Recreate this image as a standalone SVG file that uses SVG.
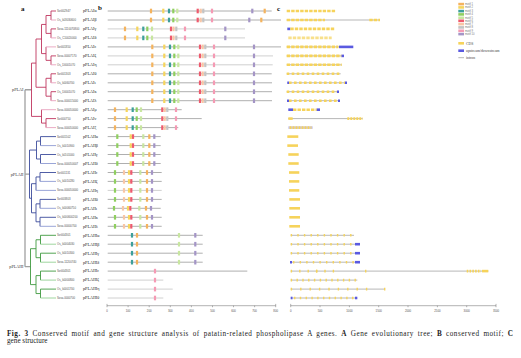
<svg xmlns="http://www.w3.org/2000/svg" width="521" height="358" viewBox="0 0 521 358">
<style>
.id{font-family:"Liberation Sans",Arial,sans-serif;font-size:2.8px;fill:#555;}
.nm{font-family:"Liberation Serif","Times New Roman",serif;font-size:4.2px;fill:#222;}
.gl{font-family:"Liberation Serif","Times New Roman",serif;font-size:4.2px;fill:#333;text-anchor:end;}
.pl{font-family:"Liberation Serif","Times New Roman",serif;font-size:7px;font-weight:bold;fill:#111;}
.ax{font-family:"Liberation Sans",Arial,sans-serif;font-size:2.8px;fill:#555;text-anchor:middle;}
.lg{font-family:"Liberation Sans",Arial,sans-serif;font-size:2.7px;fill:#777;}
.lg2{font-family:"Liberation Serif","Times New Roman",serif;font-size:3.8px;fill:#444;}
.cap{font-family:"Liberation Serif","Times New Roman",serif;font-size:7.2px;fill:#222;}
.t1{fill:none;stroke:#c0355f;stroke-width:0.9;}
.t1l{fill:none;stroke:#e8a2bd;stroke-width:0.9;}
.t2{fill:none;stroke:#3c4c9c;stroke-width:0.9;}
.t2l{fill:none;stroke:#8f9bd2;stroke-width:0.9;}
.t3{fill:none;stroke:#3f9a3f;stroke-width:0.9;}
.t3l{fill:none;stroke:#93d093;stroke-width:0.9;}
.rt{fill:none;stroke:#a0a0a0;stroke-width:1.3;}
.bl{stroke:#9a9a9a;stroke-width:0.8;}
.bll{stroke:#c4c4c4;stroke-width:0.8;}
.axl{stroke:#666;stroke-width:0.5;fill:none;}
.intr{stroke:#9a9a9a;stroke-width:0.7;}
.cds{stroke:#f6d35b;stroke-width:2.6;}
.cdsd{stroke:#f6d35b;stroke-width:2.6;stroke-dasharray:3.4 1.1;}
.ex{stroke:#f6d35b;stroke-width:2.6;stroke-dasharray:1.4 5.2;}
.utr{stroke:#5a5ae0;stroke-width:2.6;}
.m1{fill:#f4b35e}.m2{fill:#f6d55c}.m3{fill:#3d9f9a}.m4{fill:#8fcf5f}.m5{fill:#c8e6a0}
.m6{fill:#ee5a6e}.m7{fill:#f8c6a6}.m8{fill:#c4c4c4}.m9{fill:#f59ab4}.m10{fill:#a495c6}
</style>
<defs>
<g id="pA">
<rect class="m1" x="149.9" y="-2.3" width="2.2" height="4.6"/><rect class="m2" x="162.2" y="-2.3" width="2.2" height="4.6"/><rect class="m3" x="167.9" y="-2.3" width="2.2" height="4.6"/><rect class="m4" x="172.2" y="-2.3" width="2.2" height="4.6"/><rect class="m5" x="176.2" y="-2.3" width="2.2" height="4.6"/><rect class="m6" x="196.6" y="-2.3" width="2.2" height="4.6"/><rect class="m7" x="199.6" y="-2.3" width="2.2" height="4.6"/><rect class="m8" x="202.2" y="-2.3" width="2.2" height="4.6"/><rect class="m9" x="210.9" y="-2.3" width="2.2" height="4.6"/>
</g>
<g id="pG">
<rect class="m1" x="123.9" y="-2.3" width="2.2" height="4.6"/><rect class="m2" x="136.2" y="-2.3" width="2.2" height="4.6"/><rect class="m3" x="142.2" y="-2.3" width="2.2" height="4.6"/><rect class="m4" x="146.2" y="-2.3" width="2.2" height="4.6"/><rect class="m5" x="150.9" y="-2.3" width="2.2" height="4.6"/><rect class="m6" x="169.9" y="-2.3" width="2.2" height="4.6"/><rect class="m7" x="172.4" y="-2.3" width="2.2" height="4.6"/><rect class="m8" x="175.2" y="-2.3" width="2.2" height="4.6"/><rect class="m9" x="183.9" y="-2.3" width="2.2" height="4.6"/><rect class="m10" x="224.2" y="-2.3" width="2.2" height="4.6"/>
</g>
<g id="pE">
<rect class="m1" x="151.2" y="-2.3" width="2.2" height="4.6"/><rect class="m2" x="163.2" y="-2.3" width="2.2" height="4.6"/><rect class="m3" x="168.9" y="-2.3" width="2.2" height="4.6"/><rect class="m4" x="173.2" y="-2.3" width="2.2" height="4.6"/><rect class="m5" x="177.2" y="-2.3" width="2.2" height="4.6"/><rect class="m6" x="198.9" y="-2.3" width="2.2" height="4.6"/><rect class="m7" x="201.6" y="-2.3" width="2.2" height="4.6"/><rect class="m8" x="204.2" y="-2.3" width="2.2" height="4.6"/><rect class="m9" x="212.9" y="-2.3" width="2.2" height="4.6"/><rect class="m10" x="252.9" y="-2.3" width="2.2" height="4.6"/>
</g>
<g id="pM">
<rect class="m1" x="113.9" y="-2.3" width="2.2" height="4.6"/><rect class="m2" x="125.6" y="-2.3" width="2.2" height="4.6"/><rect class="m3" x="131.6" y="-2.3" width="2.2" height="4.6"/><rect class="m4" x="135.6" y="-2.3" width="2.2" height="4.6"/><rect class="m5" x="139.9" y="-2.3" width="2.2" height="4.6"/><rect class="m6" x="161.2" y="-2.3" width="2.2" height="4.6"/><rect class="m7" x="163.6" y="-2.3" width="2.2" height="4.6"/><rect class="m8" x="166.2" y="-2.3" width="2.2" height="4.6"/><rect class="m9" x="174.9" y="-2.3" width="2.2" height="4.6"/>
</g>
<g id="p2a">
<rect class="m4" x="116.2" y="-2.3" width="2.2" height="4.6"/><rect class="m2" x="129.6" y="-2.3" width="2.2" height="4.6"/><rect class="m6" x="131.9" y="-2.3" width="2.2" height="4.6"/><rect class="m5" x="142.2" y="-2.3" width="2.2" height="4.6"/><rect class="m1" x="148.2" y="-2.3" width="2.2" height="4.6"/><rect class="m10" x="153.2" y="-2.3" width="2.2" height="4.6"/>
</g>
<g id="p2b">
<rect class="m4" x="113.9" y="-2.3" width="2.2" height="4.6"/><rect class="m7" x="122.9" y="-2.3" width="2.2" height="4.6"/><rect class="m2" x="127.9" y="-2.3" width="2.2" height="4.6"/><rect class="m6" x="130.2" y="-2.3" width="2.2" height="4.6"/><rect class="m5" x="139.2" y="-2.3" width="2.2" height="4.6"/><rect class="m1" x="145.9" y="-2.3" width="2.2" height="4.6"/><rect class="m10" x="150.9" y="-2.3" width="2.2" height="4.6"/>
</g>
<g id="p3a">
<rect class="m3" x="130.9" y="-2.3" width="2.2" height="4.6"/><rect class="m1" x="135.9" y="-2.3" width="2.2" height="4.6"/><rect class="m5" x="177.9" y="-2.3" width="2.2" height="4.6"/><rect class="m10" x="194.2" y="-2.3" width="2.2" height="4.6"/>
</g>
<g id="p3b">
<rect class="m9" x="153.9" y="-2.3" width="2.2" height="4.6"/>
</g>
</defs>

<text class="pl" x="21" y="11">a</text>
<text class="pl" x="98" y="10">b</text>
<text class="pl" x="277" y="11">c</text>

<g id="tree">
<path class="rt" d="M25 89.75V266.65M25 89.75H31.5M25 174.15H29.5M25 266.65H30.5"/>
<path class="t1" d="M51 11V20M51 28.9V37.9M46 15.5V33.4M51 55.9V64.8M46 46.9V60.35M41.5 24.45V53.6M51 73.8V82.8M51 91.7V100.7M46 78.3V96.2M36 39V87.25M46 118.6V127.6M41.5 109.7V123.1M31.5 63.1V116.4
M46 15.5H51M46 33.4H51M46 60.35H51M41.5 24.45H46M41.5 53.6H46M46 78.3H51M46 96.2H51M36 39H41.5M36 87.25H46M41.5 123.1H46M31.5 63.1H36M31.5 116.4H41.5
M51 11H56M51 28.9H56M51 55.9H56M51 73.8H56M51 91.7H56M46 118.6H56"/>
<path class="t1l" d="M51 20H56M51 37.9H56M46 46.9H56M51 64.8H56M51 82.8H56M51 100.7H56M41.5 109.7H56M46 127.6H56"/>
<path class="t2" d="M40.5 136.6V145.6M40.5 154.5V163.5M36.5 141.1V159M40 172.5V181.4M36 176.95V190.4M40 199.4V208.3M40 217.3V226.3M36 203.85V221.8M31.5 183.7V212.8M29.5 150.05V198.25
M36.5 141.1H40.5M36.5 159H40.5M36 176.95H40M36 203.85H40M36 221.8H40M31.5 183.7H36M31.5 212.8H36M29.5 150.05H36.5M29.5 198.25H31.5
M40.5 136.6H56M40.5 154.5H56M40 172.5H56M40 199.4H56M40 217.3H56"/>
<path class="t2l" d="M40.5 145.6H56M40.5 163.5H56M40 181.4H56M36 190.4H56M40 208.3H56M40 226.3H56"/>
<path class="t3" d="M40.5 235.3V244.2M40.5 253.2V262.2M36 239.75V257.7M40.5 271.1V280.1M40.5 289.1V298M36 275.6V293.55M30.5 248.7V284.6
M36 239.75H40.5M36 257.7H40.5M36 275.6H40.5M36 293.55H40.5M30.5 248.7H36M30.5 284.6H36
M40.5 235.3H56M40.5 253.2H56M40.5 271.1H56M40.5 289.1H56"/>
<path class="t3l" d="M40.5 244.2H56M40.5 262.2H56M40.5 280.1H56M40.5 298H56"/>
</g>
<g id="groups">
<text class="gl" x="23.5" y="91.2">pPLAI</text>
<text class="gl" x="23.5" y="175.6">pPLAII</text>
<text class="gl" x="23.5" y="268.1">pPLAIII</text>
</g>

<g id="n-I-a"><text class="id" x="57" y="12">Sot002947</text><text class="nm" x="83" y="12.3">pPLAIα</text><line class="bl" x1="107.7" y1="11" x2="271.7" y2="11"/><use href="#pA" y="11"/><rect class="m10" x="251.2" y="8.7" width="2.2" height="4.6"/><rect class="m1" x="263.6" y="8.7" width="2.2" height="4.6"/><line class="cdsd" x1="286.7" y1="11" x2="336" y2="11"/></g>
<g id="n-I-b"><text class="id" x="57" y="21">Os_k03030600</text><text class="nm" x="83" y="21.3">pPLAIβ</text><line class="bl" x1="107.7" y1="20" x2="281" y2="20"/><use href="#pA" y="20"/><rect class="m10" x="248.2" y="17.7" width="2.2" height="4.6"/><rect class="m1" x="260.2" y="17.7" width="2.2" height="4.6"/><line class="intr" x1="286.7" y1="20" x2="380" y2="20"/><line class="cdsd" x1="286.7" y1="20" x2="325" y2="20"/><line class="cdsd" x1="369.3" y1="20" x2="380" y2="20"/></g>
<g id="n-I-g"><text class="id" x="57" y="29.9">Sova.1110070800</text><text class="nm" x="83" y="30.2">pPLAIγ</text><line class="bll" x1="107.7" y1="28.9" x2="245" y2="28.9"/><use href="#pG" y="28.9"/><line class="utr" x1="287.3" y1="28.9" x2="290.3" y2="28.9"/><line class="cdsd" x1="290.3" y1="28.9" x2="334.3" y2="28.9"/></g>
<g id="n-I-d"><text class="id" x="57" y="38.9">Os_C10020000</text><text class="nm" x="83" y="39.2">pPLAIδ</text><line class="bll" x1="107.7" y1="37.9" x2="245" y2="37.9"/><use href="#pG" y="37.9"/><line class="cdsd" x1="288.3" y1="37.9" x2="331.7" y2="37.9" opacity="0.7"/></g>
<g id="n-I-e"><text class="id" x="57" y="47.9">Sot001850</text><text class="nm" x="83" y="48.2">pPLAIε</text><line class="bl" x1="107.7" y1="46.9" x2="281" y2="46.9"/><use href="#pE" y="46.9"/><line class="intr" x1="286.7" y1="46.9" x2="340" y2="46.9"/><line class="cdsd" x1="286.7" y1="46.9" x2="338.3" y2="46.9"/><line class="utr" x1="339" y1="46.9" x2="353.3" y2="46.9"/></g>
<g id="n-I-z"><text class="id" x="57" y="56.9">Sova.00007170</text><text class="nm" x="83" y="57.2">pPLAIζ</text><line class="bll" x1="107.7" y1="55.9" x2="273" y2="55.9"/><use href="#pE" y="55.9"/><line class="intr" x1="286.7" y1="55.9" x2="344" y2="55.9"/><line class="cdsd" x1="286.7" y1="55.9" x2="341.5" y2="55.9"/><line class="utr" x1="341.5" y1="55.9" x2="344" y2="55.9"/></g>
<g id="n-I-h"><text class="id" x="57" y="65.8">Os_D0001070</text><text class="nm" x="83" y="66.1">pPLAIη</text><line class="bll" x1="107.7" y1="64.8" x2="272.7" y2="64.8"/><use href="#pE" y="64.8"/><line class="intr" x1="286.7" y1="64.8" x2="341.7" y2="64.8"/><line class="cdsd" x1="286.7" y1="64.8" x2="341.7" y2="64.8"/></g>
<g id="n-I-th"><text class="id" x="57" y="74.8">Sot001303</text><text class="nm" x="83" y="75.1">pPLAIθ</text><line class="bl" x1="107.7" y1="73.8" x2="271.7" y2="73.8"/><use href="#pE" y="73.8"/><line class="intr" x1="286.7" y1="73.8" x2="340.7" y2="73.8"/><line class="cdsd" x1="286.7" y1="73.8" x2="340.7" y2="73.8" style="stroke-dasharray:2.6 2.4"/></g>
<g id="n-I-i"><text class="id" x="57" y="83.8">Os_k0060700</text><text class="nm" x="83" y="84.1">pPLAIι</text><line class="bl" x1="107.7" y1="82.8" x2="272" y2="82.8"/><use href="#pE" y="82.8"/><line class="intr" x1="287.3" y1="82.8" x2="347" y2="82.8"/><line class="utr" x1="287.3" y1="82.8" x2="289" y2="82.8"/><line class="cdsd" x1="289" y1="82.8" x2="345" y2="82.8" style="stroke-dasharray:2.6 2.4"/><line class="utr" x1="345" y1="82.8" x2="347" y2="82.8"/></g>
<g id="n-I-k"><text class="id" x="57" y="92.7">Os_D0001070</text><text class="nm" x="83" y="93">pPLAIκ</text><line class="bl" x1="107.7" y1="91.7" x2="272" y2="91.7"/><use href="#pE" y="91.7"/><line class="intr" x1="286.7" y1="91.7" x2="339" y2="91.7"/><line class="cdsd" x1="286.7" y1="91.7" x2="337" y2="91.7" style="stroke-dasharray:2.6 2.4"/><line class="utr" x1="337" y1="91.7" x2="339" y2="91.7"/></g>
<g id="n-I-l"><text class="id" x="57" y="101.7">Sova.000015000</text><text class="nm" x="83" y="102">pPLAIλ</text><line class="bl" x1="107.7" y1="100.7" x2="272" y2="100.7"/><use href="#pE" y="100.7"/><line class="intr" x1="287" y1="100.7" x2="340" y2="100.7"/><line class="utr" x1="287" y1="100.7" x2="289" y2="100.7"/><line class="cdsd" x1="289" y1="100.7" x2="338" y2="100.7" style="stroke-dasharray:2.6 2.4"/><line class="utr" x1="338" y1="100.7" x2="340" y2="100.7"/></g>
<g id="n-I-m"><text class="id" x="57" y="110.7">Sova.000050000</text><text class="nm" x="83" y="111">pPLAIμ</text><line class="bl" x1="107.7" y1="109.7" x2="181.7" y2="109.7"/><use href="#pM" y="109.7"/><line class="utr" x1="288.3" y1="109.7" x2="293" y2="109.7"/><line class="cdsd" x1="293" y1="109.7" x2="316.7" y2="109.7"/><line class="utr" x1="316.7" y1="109.7" x2="320" y2="109.7"/></g>
<g id="n-I-n"><text class="id" x="57" y="119.6">Sot000750</text><text class="nm" x="83" y="119.9">pPLAIν</text><line class="bl" x1="107.7" y1="118.6" x2="201.7" y2="118.6"/><use href="#pM" y="118.6"/><line class="intr" x1="288.3" y1="118.6" x2="362.7" y2="118.6"/><line class="cds" x1="288.3" y1="118.6" x2="292.7" y2="118.6"/><line class="cdsd" x1="347.3" y1="118.6" x2="362.7" y2="118.6" style="stroke-dasharray:2 1"/></g>
<g id="n-I-x"><text class="id" x="57" y="128.6">Sova.000050000</text><text class="nm" x="83" y="128.9">pPLAIξ</text><line class="bl" x1="107.7" y1="127.6" x2="178.3" y2="127.6"/><use href="#pM" y="127.6"/><line class="utr" x1="288.3" y1="127.6" x2="312.7" y2="127.6" opacity="0.35"/><line class="cdsd" x1="289.5" y1="127.6" x2="311.5" y2="127.6" style="stroke-dasharray:2 1"/></g>

<g id="n-II-a"><text class="id" x="57" y="137.6">Sot001502</text><text class="nm" x="83" y="137.9">pPLAIIα</text><line class="bl" x1="107.7" y1="136.6" x2="160.7" y2="136.6"/><use href="#p2a" y="136.6"/><line class="cds" x1="287.3" y1="136.6" x2="298.3" y2="136.6"/></g>
<g id="n-II-b"><text class="id" x="57" y="146.6">Os_k0010900</text><text class="nm" x="83" y="146.9">pPLAIIβ</text><line class="bl" x1="107.7" y1="145.6" x2="160.7" y2="145.6"/><use href="#p2a" y="145.6"/><line class="cds" x1="287.3" y1="145.6" x2="298" y2="145.6"/></g>
<g id="n-II-g"><text class="id" x="57" y="155.5">Os_k0101000</text><text class="nm" x="83" y="155.8">pPLAIIγ</text><line class="bl" x1="107.7" y1="154.5" x2="160.7" y2="154.5"/><use href="#p2a" y="154.5"/><line class="cds" x1="288.3" y1="154.5" x2="298.7" y2="154.5"/></g>
<g id="n-II-d"><text class="id" x="57" y="164.5">Sova.000050007</text><text class="nm" x="83" y="164.8">pPLAIIδ</text><line class="bl" x1="107.7" y1="163.5" x2="160.7" y2="163.5"/><use href="#p2a" y="163.5"/><line class="cds" x1="288.3" y1="163.5" x2="298.7" y2="163.5"/></g>
<g id="n-II-e"><text class="id" x="57" y="173.5">Sot001131</text><text class="nm" x="83" y="173.8">pPLAIIε</text><line class="bl" x1="107.7" y1="172.5" x2="161.7" y2="172.5"/><use href="#p2b" y="172.5"/><line class="cds" x1="289" y1="172.5" x2="299.3" y2="172.5"/></g>
<g id="n-II-z"><text class="id" x="57" y="182.4">Os_k0010280</text><text class="nm" x="83" y="182.7">pPLAIIζ</text><line class="bl" x1="107.7" y1="181.4" x2="161.7" y2="181.4"/><use href="#p2b" y="181.4"/><line class="cds" x1="289" y1="181.4" x2="299.3" y2="181.4"/></g>
<g id="n-II-h"><text class="id" x="57" y="191.4">Sova.000050000</text><text class="nm" x="83" y="191.7">pPLAIIη</text><line class="bll" x1="107.7" y1="190.4" x2="161.7" y2="190.4"/><use href="#p2b" y="190.4"/><line class="cds" x1="289" y1="190.4" x2="299.3" y2="190.4"/></g>
<g id="n-II-th"><text class="id" x="57" y="200.4">Sot003803</text><text class="nm" x="83" y="200.7">pPLAIIθ</text><line class="bl" x1="107.7" y1="199.4" x2="161.7" y2="199.4"/><use href="#p2b" y="199.4"/><line class="cds" x1="289.3" y1="199.4" x2="300" y2="199.4"/></g>
<g id="n-II-i"><text class="id" x="57" y="209.3">Os_k00060750</text><text class="nm" x="83" y="209.6">pPLAIIι</text><line class="bl" x1="107.7" y1="208.3" x2="160.7" y2="208.3"/><use href="#p2b" x="-1" y="208.3"/><line class="cds" x1="289.3" y1="208.3" x2="300" y2="208.3"/></g>
<g id="n-II-k"><text class="id" x="57" y="218.3">Os_k000600200</text><text class="nm" x="83" y="218.6">pPLAIIκ</text><line class="bl" x1="107.7" y1="217.3" x2="161.7" y2="217.3"/><use href="#p2b" y="217.3"/><line class="cds" x1="289.3" y1="217.3" x2="300" y2="217.3"/></g>
<g id="n-II-l"><text class="id" x="57" y="227.3">Sova.00000700</text><text class="nm" x="83" y="227.6">pPLAIIλ</text><line class="bl" x1="107.7" y1="226.3" x2="161.7" y2="226.3"/><use href="#p2b" y="226.3"/><line class="cds" x1="289.3" y1="226.3" x2="300" y2="226.3"/></g>

<g id="n-III-a"><text class="id" x="57" y="236.3">Sot004301</text><text class="nm" x="83" y="236.6">pPLAIIIα</text><line class="bl" x1="107.7" y1="235.3" x2="202.7" y2="235.3"/><use href="#p3a" y="235.3"/><line class="intr" x1="290.7" y1="235.3" x2="354" y2="235.3"/><line class="ex" x1="290.7" y1="235.3" x2="354" y2="235.3"/></g>
<g id="n-III-b"><text class="id" x="57" y="245.2">Os_k0004030</text><text class="nm" x="83" y="245.5">pPLAIIIβ</text><line class="bl" x1="107.7" y1="244.2" x2="202.7" y2="244.2"/><use href="#p3a" y="244.2"/><line class="intr" x1="290.7" y1="244.2" x2="356" y2="244.2"/><line class="ex" x1="290.7" y1="244.2" x2="356" y2="244.2"/><line class="utr" x1="355" y1="244.2" x2="360" y2="244.2"/></g>
<g id="n-III-g"><text class="id" x="57" y="254.2">Os_k0010300</text><text class="nm" x="83" y="254.5">pPLAIIIγ</text><line class="bl" x1="107.7" y1="253.2" x2="202.7" y2="253.2"/><use href="#p3a" y="253.2"/><line class="intr" x1="290.7" y1="253.2" x2="356" y2="253.2"/><line class="ex" x1="290.7" y1="253.2" x2="356" y2="253.2"/><line class="utr" x1="355" y1="253.2" x2="360" y2="253.2"/></g>
<g id="n-III-d"><text class="id" x="57" y="263.2">Sova.11200740</text><text class="nm" x="83" y="263.5">pPLAIIIδ</text><line class="bl" x1="107.7" y1="262.2" x2="202.7" y2="262.2"/><use href="#p3a" y="262.2"/><line class="intr" x1="290" y1="262.2" x2="355" y2="262.2"/><line class="utr" x1="290" y1="262.2" x2="292" y2="262.2"/><line class="ex" x1="293" y1="262.2" x2="355" y2="262.2"/><line class="utr" x1="355" y1="262.2" x2="360" y2="262.2"/></g>
<g id="n-III-e"><text class="id" x="57" y="272.1">Sot004301</text><text class="nm" x="83" y="272.4">pPLAIIIε</text><line class="bl" x1="107.7" y1="271.1" x2="247.3" y2="271.1"/><use href="#p3b" y="271.1"/><line class="intr" x1="290.7" y1="271.1" x2="488.3" y2="271.1"/><line class="ex" x1="290.7" y1="271.1" x2="340" y2="271.1" style="stroke-dasharray:1.4 7"/><line class="ex" x1="316" y1="271.1" x2="318" y2="271.1"/><line class="ex" x1="365" y1="271.1" x2="367" y2="271.1"/><line class="cdsd" x1="466.7" y1="271.1" x2="481" y2="271.1" style="stroke-dasharray:1.6 1.2"/><line class="cds" x1="482" y1="271.1" x2="488.3" y2="271.1"/></g>
<g id="n-III-z"><text class="id" x="57" y="281.1">Os_k0000800</text><text class="nm" x="83" y="281.4">pPLAIIIζ</text><line class="bll" x1="107.7" y1="280.1" x2="163.3" y2="280.1"/><use href="#p3b" y="280.1"/><line class="intr" x1="290.7" y1="280.1" x2="357.3" y2="280.1"/><line class="ex" x1="290.7" y1="280.1" x2="357.3" y2="280.1" style="stroke-dasharray:1.4 4.4"/></g>
<g id="n-III-h"><text class="id" x="57" y="290.1">Os_k0001700</text><text class="nm" x="83" y="290.4">pPLAIIIη</text><line class="bll" x1="107.7" y1="289.1" x2="172.7" y2="289.1"/><use href="#p3b" y="289.1"/><line class="intr" x1="290.7" y1="289.1" x2="385" y2="289.1"/><line class="ex" x1="290.7" y1="289.1" x2="375" y2="289.1" style="stroke-dasharray:1.4 8"/><line class="ex" x1="384" y1="289.1" x2="385.5" y2="289.1"/></g>
<g id="n-III-th"><text class="id" x="57" y="299">Sova.0000700</text><text class="nm" x="83" y="299.3">pPLAIIIθ</text><line class="bll" x1="107.7" y1="298" x2="163.3" y2="298"/><use href="#p3b" y="298"/><line class="intr" x1="290.7" y1="298" x2="357.3" y2="298"/><line class="utr" x1="290.7" y1="298" x2="292.5" y2="298"/><line class="ex" x1="294" y1="298" x2="355" y2="298" style="stroke-dasharray:1.4 4.4"/><line class="utr" x1="355" y1="298" x2="357.3" y2="298"/></g>

<g id="axis-b">
<path class="axl" d="M107 305.7H275.7M107 303.9V307.2M128.1 305.7V307.2M149.2 305.7V307.2M170.3 305.7V307.2M191.4 305.7V307.2M212.5 305.7V307.2M233.5 305.7V307.2M254.6 305.7V307.2M275.7 303.9V307.2"/>
<text class="ax" x="107" y="311.5">0</text><text class="ax" x="128.1" y="311.5">100</text><text class="ax" x="149.2" y="311.5">200</text><text class="ax" x="170.3" y="311.5">300</text><text class="ax" x="191.4" y="311.5">400</text><text class="ax" x="212.5" y="311.5">500</text><text class="ax" x="233.5" y="311.5">600</text><text class="ax" x="254.6" y="311.5">700</text><text class="ax" x="275.7" y="311.5">800</text>
</g>
<g id="axis-c">
<path class="axl" d="M290.7 305.7H496M290.7 303.9V307.2M320 305.7V307.2M349.4 305.7V307.2M378.7 305.7V307.2M408 305.7V307.2M437.4 305.7V307.2M466.7 305.7V307.2M496 303.9V307.2"/>
<text class="ax" x="290.7" y="311.5">0</text><text class="ax" x="320" y="311.5">500</text><text class="ax" x="349.4" y="311.5">1000</text><text class="ax" x="378.7" y="311.5">1500</text><text class="ax" x="408" y="311.5">2000</text><text class="ax" x="437.4" y="311.5">2500</text><text class="ax" x="466.7" y="311.5">3000</text><text class="ax" x="496" y="311.5">3500</text>
</g>

<g id="legend">
<rect class="m1" x="458.3" y="2.8" width="5.7" height="2.6"/><text class="lg" x="465" y="5">motif 1</text>
<rect class="m2" x="458.3" y="6.1" width="5.7" height="2.6"/><text class="lg" x="465" y="8.3">motif 2</text>
<rect class="m3" x="458.3" y="9.8" width="5.7" height="2.6"/><text class="lg" x="465" y="12">motif 3</text>
<rect class="m4" x="458.3" y="13.1" width="5.7" height="2.6"/><text class="lg" x="465" y="15.3">motif 4</text>
<rect class="m5" x="458.3" y="16.5" width="5.7" height="2.6"/><text class="lg" x="465" y="18.7">motif 5</text>
<rect class="m6" x="458.3" y="19.5" width="5.7" height="2.6"/><text class="lg" x="465" y="21.7">motif 6</text>
<rect class="m7" x="458.3" y="22.8" width="5.7" height="2.6"/><text class="lg" x="465" y="25">motif 7</text>
<rect class="m8" x="458.3" y="26.1" width="5.7" height="2.6"/><text class="lg" x="465" y="28.3">motif 8</text>
<rect class="m9" x="458.3" y="29.5" width="5.7" height="2.6"/><text class="lg" x="465" y="31.7">motif 9</text>
<rect class="m10" x="458.3" y="32.8" width="5.7" height="2.6"/><text class="lg" x="465" y="35">motif 10</text>
<rect x="458.3" y="42" width="5.7" height="2.6" fill="#f6d35b"/><text class="lg2" x="466" y="44.7">CDS</text>
<rect x="458.3" y="49.4" width="5.7" height="2.6" fill="#5a5ae0"/><text class="lg2" x="466" y="52">upstream/downstream</text>
<line x1="458.3" y1="57.7" x2="464" y2="57.7" stroke="#9a9a9a" stroke-width="0.7"/><text class="lg2" x="466" y="59">intron</text>
</g>

<text class="cap" x="7" y="335.5" word-spacing="1.6" textLength="506" lengthAdjust="spacing"><tspan font-weight="bold">Fig. 3</tspan>  Conserved motif and gene structure analysis of patatin-related phospholipase A genes. <tspan font-weight="bold">A</tspan> Gene evolutionary tree; <tspan font-weight="bold">B</tspan> conserved motif; <tspan font-weight="bold">C</tspan></text>
<text class="cap" x="7" y="342.5">gene structure</text>
</svg>
